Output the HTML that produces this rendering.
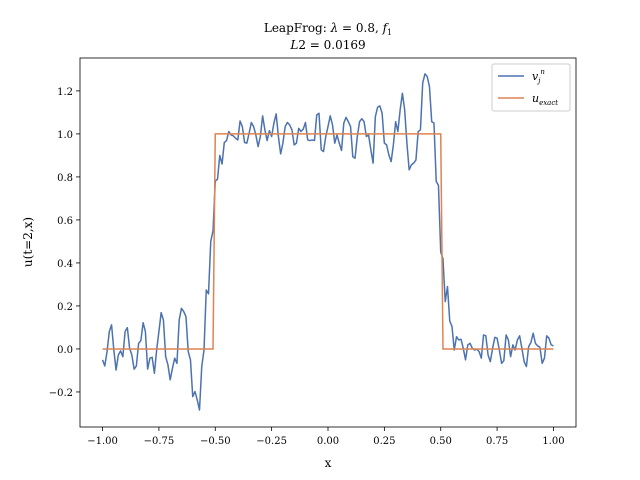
<!DOCTYPE html>
<html><head><meta charset="utf-8"><style>
body{margin:0;background:#fff}
svg{display:block;font-family:"DejaVu Serif","Liberation Serif",serif}
</style></head><body>
<svg id="c" width="640" height="480" viewBox="0 0 640 480">
<text x="328" y="32" text-anchor="middle" font-size="12">LeapFrog: <tspan font-style="italic">λ</tspan> = 0.8, <tspan font-style="italic">f</tspan><tspan font-size="8" dy="3">1</tspan></text>
<text x="328" y="49" text-anchor="middle" font-size="12"><tspan font-style="italic">L</tspan>2 = 0.0169</text>
<g id="plot"></g>
<text x="328" y="467" text-anchor="middle" font-size="12">x</text>
<text transform="translate(32,242) rotate(-90)" text-anchor="middle" font-size="12">u(t=2,x)</text>
<g>
<rect x="492" y="64" width="78" height="47" fill="#fff" stroke="#ccc" rx="2"/>
<line x1="498" y1="76" x2="524" y2="76" stroke="#4c72b0" stroke-width="1.5"/>
<text x="532" y="80" font-size="11" font-style="italic">v<tspan font-size="7" dy="3">j</tspan><tspan font-size="7" dy="-9">n</tspan></text>
<line x1="498" y1="98" x2="524" y2="98" stroke="#dd8452" stroke-width="1.5"/>
<text x="532" y="102" font-size="11" font-style="italic">u<tspan font-size="7" dy="3">exact</tspan></text>
</g>
</svg>
<script>
const xStart=-1.0, xStep=0.01;
const numericValues=[-0.051,-0.079,-0.012,0.081,0.112,-0.005,-0.098,-0.028,-0.009,-0.036,0.081,0.099,0.003,-0.028,-0.094,-0.079,0.026,0.039,0.122,0.081,-0.094,-0.043,-0.039,-0.113,-0.005,0.081,0.169,0.135,-0.036,-0.074,-0.144,-0.09,-0.043,-0.067,0.135,0.189,0.174,0.150,-0.012,-0.051,-0.222,-0.198,-0.237,-0.284,-0.082,-0.005,0.274,0.256,
0.5,0.55,0.78,0.79,0.9,0.86,0.96,
0.969,1.011,0.995,0.991,0.980,0.972,1.060,1.034,0.960,0.957,1.003,1.053,1.034,0.995,0.941,0.988,1.084,1.019,0.969,1.015,0.988,1.050,1.093,0.988,0.907,0.957,1.034,1.053,1.042,1.019,0.949,0.957,1.026,1.011,1.022,1.053,0.972,0.969,0.972,0.969,1.088,1.096,0.926,0.918,0.988,1.034,1.084,1.042,0.957,0.995,0.957,0.923,1.050,1.077,1.057,1.034,0.894,0.887,0.988,1.057,1.071,1.057,0.988,0.995,0.926,0.864,1.080,1.124,
1.130,1.096,0.957,0.949,0.902,0.871,0.949,1.057,1.011,1.112,1.189,1.112,0.957,0.833,0.856,0.864,0.879,1.011,1.019,1.236,1.279,1.267,1.220,1.057,1.050,
0.78,0.76,0.45,0.42,0.22,0.29,0.13,
0.104,-0.005,0.057,0.042,0.045,0.003,-0.051,0.019,0.026,0.003,-0.005,-0.001,-0.012,-0.043,0.065,0.061,-0.028,-0.059,0.003,0.054,0.050,-0.005,-0.067,-0.054,0.065,0.042,-0.036,0.019,-0.005,0.042,0.061,0.003,-0.059,-0.082,0.011,0.030,0.073,0.026,0.014,0.008,-0.067,-0.043,0.061,0.050,0.019,0.014];
const exactLow=0, exactHigh=1, exactLeft=-0.5, exactRight=0.5;
const xTicks=[-1.0,-0.75,-0.5,-0.25,0,0.25,0.5,0.75,1.0];
const xTickLabels=["−1.00","−0.75","−0.50","−0.25","0.00","0.25","0.50","0.75","1.00"];
const yTicks=[-0.2,0,0.2,0.4,0.6,0.8,1.0,1.2];
const yTickLabels=["−0.2","0.0","0.2","0.4","0.6","0.8","1.0","1.2"];

const L=80,R=576,T=58,B=427, xmin=-1.1,xmax=1.1, ymin=-0.363,ymax=1.353;
const sx=v=>L+(v-xmin)/(xmax-xmin)*(R-L);
const sy=v=>B-(v-ymin)/(ymax-ymin)*(B-T);
const NS="http://www.w3.org/2000/svg";
const g=document.getElementById('plot');
function mk(t,a){const e=document.createElementNS(NS,t);for(const k in a)e.setAttribute(k,a[k]);g.appendChild(e);return e;}
xTicks.forEach((v,i)=>{
 const l=mk('line',{x1:sx(v),x2:sx(v),y1:B,y2:B+4,stroke:'#000','stroke-width':0.8});
 
 
 const t=mk('text',{x:sx(v),y:B+17,'text-anchor':'middle','font-size':10});
 t.textContent=xTickLabels[i];
 
 
});
yTicks.forEach((v,i)=>{
 const l=mk('line',{x1:L-4,x2:L,y1:sy(v),y2:sy(v),stroke:'#000','stroke-width':0.8});
 
 
 const t=mk('text',{x:L-7,y:sy(v)+4,'text-anchor':'end','font-size':10});
 t.textContent=yTickLabels[i];
 
 
});
let pn=[],pe=[];
numericValues.forEach((v,i)=>{
 const x=xStart+i*xStep;
 pn.push(sx(x).toFixed(2)+','+sy(v).toFixed(2));
 const ev=(x>=exactLeft-1e-9&&x<=exactRight+1e-9)?exactHigh:exactLow;
 pe.push(sx(x).toFixed(2)+','+sy(ev).toFixed(2));
});
const ln=mk('polyline',{points:pn.join(' '),fill:'none',stroke:'#4c72b0','stroke-width':1.5,'stroke-linejoin':'round'});


const le=mk('polyline',{points:pe.join(' '),fill:'none',stroke:'#dd8452','stroke-width':1.5});


const fr=mk('rect',{x:L,y:T,width:R-L,height:B-T,fill:'none',stroke:'#000','stroke-width':0.8});


</script>
</body></html>
